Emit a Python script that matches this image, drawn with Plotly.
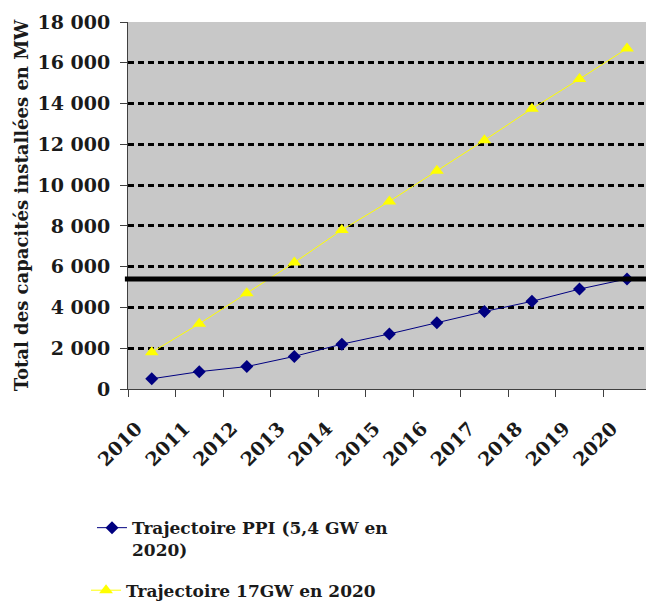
import plotly.graph_objects as go

# Installed capacity trajectories (MW), 2010-2020
years = ["2010", "2011", "2012", "2013", "2014", "2015",
         "2016", "2017", "2018", "2019", "2020"]
ppi_mw = [500, 850, 1100, 1600, 2200, 2700, 3250, 3800, 4300, 4900, 5400]
traj_17gw_mw = [1800, 3200, 4700, 6200, 7800, 9200, 10700, 12200, 13750, 15200, 16700]
objectif_ppi_mw = 5400

y_tick_vals = [0, 2000, 4000, 6000, 8000, 10000, 12000, 14000, 16000, 18000]
y_tick_text = ["0", "2 000", "4 000", "6 000", "8 000", "10 000",
               "12 000", "14 000", "16 000", "18 000"]

serif = "DejaVu Serif"
ink = "#1a1a1a"
tick_font = dict(family=serif, size=19, color=ink, weight="bold")
title_font = dict(family=serif, size=18, color=ink, weight="bold")
legend_font = dict(family=serif, size=17, color=ink, weight="bold")

fig = go.Figure()

fig.add_trace(go.Scatter(
    x=years, y=ppi_mw,
    mode="lines+markers",
    name="Trajectoire PPI (5,4 GW en<br>2020)",
    line=dict(color="#000080", width=1),
    marker=dict(symbol="diamond", size=10, color="#000080"),
    legend="legend",
))

fig.add_trace(go.Scatter(
    x=years, y=traj_17gw_mw,
    mode="lines+markers",
    name="Trajectoire 17GW en 2020",
    line=dict(color="#ffff00", width=1),
    marker=dict(symbol="triangle-up", size=12, color="#ffff00"),
    legend="legend2",
))

# PPI target line across the plot
fig.add_shape(
    type="line", xref="paper", yref="y",
    x0=-0.006, x1=1, y0=objectif_ppi_mw, y1=objectif_ppi_mw,
    line=dict(color="#000000", width=5),
)
fig.add_annotation(
    x="2018", y=objectif_ppi_mw, xref="x", yref="y",
    text="Objectif PPI", showarrow=False,
    yanchor="bottom", yshift=3,
    font=dict(family="Liberation Sans", size=19, color="#404040"),
)

fig.update_layout(
    width=646, height=610,
    margin=dict(l=128, r=0, t=22, b=221),
    paper_bgcolor="#ffffff",
    plot_bgcolor="#c8c8c8",
    showlegend=True,
    legend=dict(
        x=-0.0695, y=-0.33, xanchor="left", yanchor="top",
        valign="top",
        font=legend_font, bgcolor="rgba(0,0,0,0)",
    ),
    legend2=dict(
        x=-0.081, y=-0.5985, xanchor="left", yanchor="bottom",
        font=legend_font, bgcolor="rgba(0,0,0,0)",
    ),
)

fig.update_xaxes(
    type="category",
    range=[-0.5, 10.4],
    tickson="boundaries",
    ticks="outside", ticklen=7, tickcolor="#404040",
    showline=True, linecolor="#404040", linewidth=1,
    showgrid=False, zeroline=False,
    tickangle=-45,
    ticklabelshift=-15,
    ticklabelstandoff=20,
    tickfont=tick_font,
    automargin=False,
)

fig.update_yaxes(
    range=[0, 18000],
    tickvals=y_tick_vals, ticktext=y_tick_text,
    ticks="outside", ticklen=7, tickcolor="#404040",
    showline=True, linecolor="#404040", linewidth=1,
    showgrid=True, gridcolor="#000000", gridwidth=2.5, griddash="6px,4px",
    zeroline=False,
    ticklabelstandoff=6,
    tickfont=tick_font,
    title=dict(text="Total des capacités installées en MW",
               font=title_font, standoff=4),
    automargin=False,
)

fig.write_html("out.html")
